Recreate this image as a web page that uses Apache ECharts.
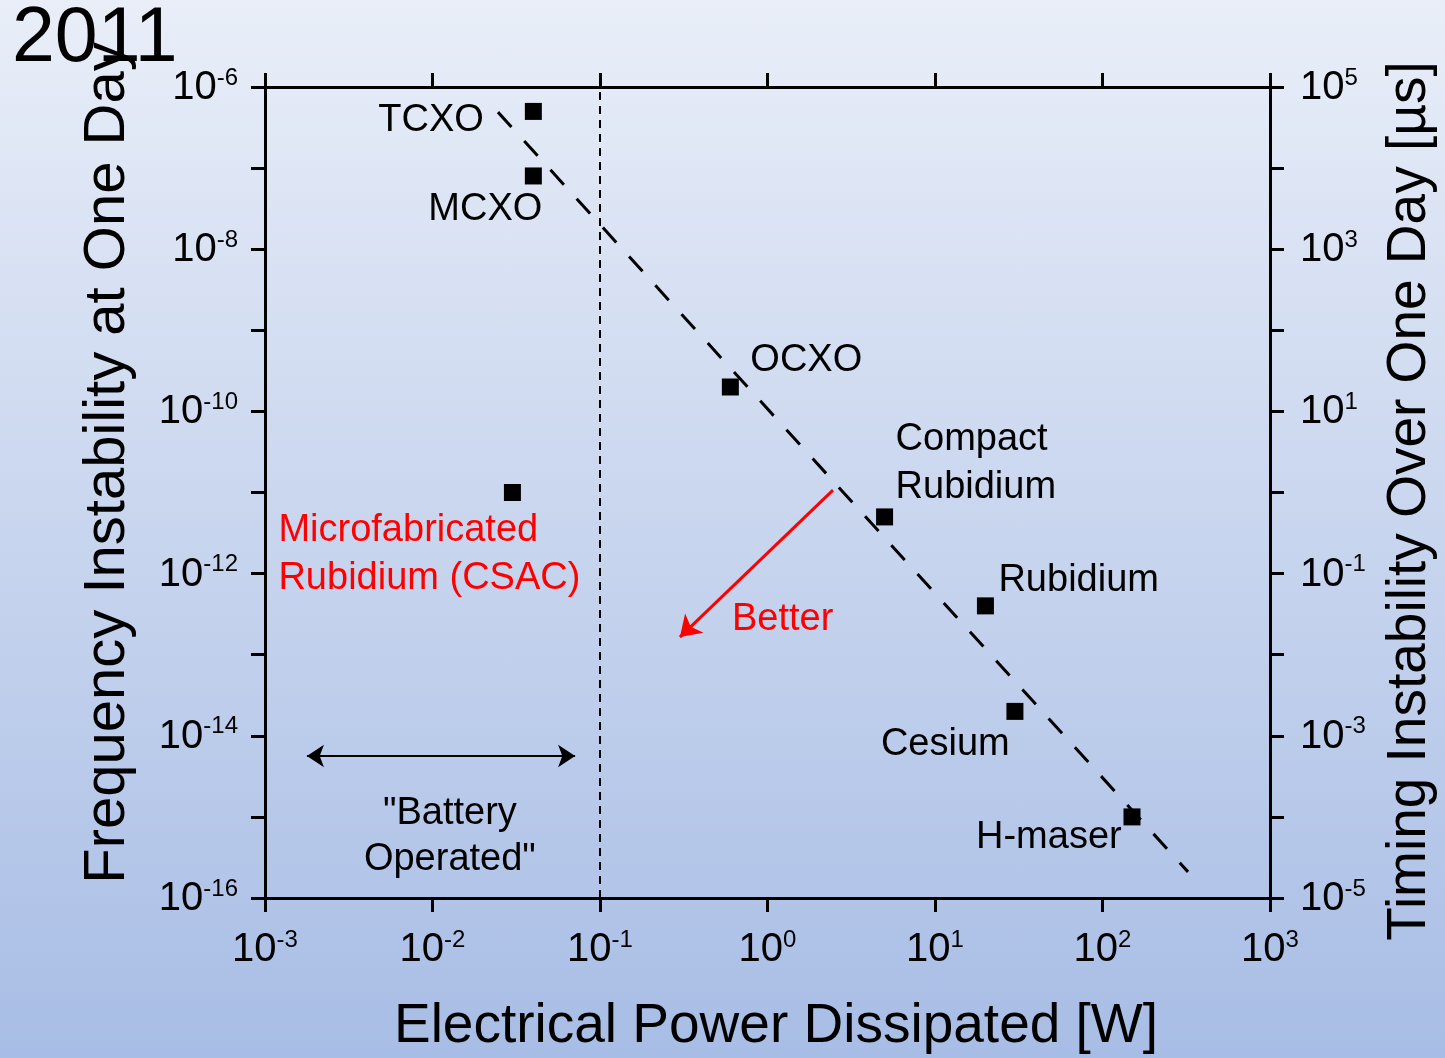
<!DOCTYPE html>
<html><head><meta charset="utf-8">
<script src="https://cdn.jsdelivr.net/npm/echarts@6/dist/echarts.min.js"></script>
<style>
html,body{margin:0;padding:0;}
#c{width:1445px;height:1058px;background:linear-gradient(to bottom,#e9eef8 0%,#a8bde5 100%);}
</style>
</head><body><div id="c"></div>
<script>
const FONT = '"Liberation Sans", Arial, sans-serif';

// ---- data ----
const deviceNames = ['TCXO', 'MCXO', 'OCXO', 'Compact\nRubidium', 'Rubidium', 'Cesium', 'H-maser', 'Microfabricated\nRubidium (CSAC)'];
const powerW = [0.04, 0.04, 0.6, 5, 20, 30, 150, 0.03];
const freqInstability = [5e-7, 8e-8, 2e-10, 5e-12, 4e-13, 2e-14, 1e-15, 1e-11];
const trendPower = [0.0246, 324];
const trendInstability = [4.9e-7, 2.1e-16];
const batteryLimitW = [0.1, 0.1];
const batteryLimitY = [1e-16, 1e-6];
const xExtent = [1e-3, 1e3];
const yExtent = [1e-16, 1e-6];
const timingExtent = [1e-5, 1e5];
const betterArrowX = [2.46, 0.30];
const betterArrowY = [1.07e-11, 1.65e-13];
const batteryArrowX = [0.00178, 0.071];
const batteryArrowY = [5.64e-15, 5.64e-15];
const notes = ['Better', '"Battery\nOperated"'];
const notesX = [0.614, 0.0127];
const notesY = [2.75e-13, 5.8e-16];

// ---- layout (label offsets, px relative to marker box) ----
const labelLayout = [[-146.5, 17.5], [-96.5, 42.5], [28.5, -17.5], [19.5, -44.5], [21.5, -16.5], [-125.5, 41.5], [-147.5, 29.5], [-225.5, 70.5]];
const labelColor = ['#000', '#000', '#000', '#000', '#000', '#000', '#000', '#ff0000'];

const expOf = v => Math.round(Math.log10(v));
const richLabel = {
  b: {fontSize: 40, fontFamily: FONT, color: '#000', lineHeight: 42, verticalAlign: 'bottom'},
  s: {fontSize: 24, fontFamily: FONT, color: '#000', verticalAlign: 'top', lineHeight: 14}
};
const fmt = (keep) => v => { const e = expOf(v); return keep(e) ? '{b|10}{s|' + e + '}' : ''; };

const axisLine = {show: true, onZero: false, lineStyle: {color: '#000', width: 3}};
const axisTick = {show: true, inside: false, length: 14, lineStyle: {color: '#000', width: 3}};

const chart = echarts.init(document.getElementById('c'), null, {renderer: 'canvas'});
chart.setOption({
  animation: false,
  backgroundColor: 'transparent',
  grid: {left: 265, right: 175, top: 87, bottom: 160, containLabel: false},
  xAxis: [
    {type: 'log', logBase: 10, min: xExtent[0], max: xExtent[1], interval: 1, position: 'bottom',
     axisLine, axisTick, splitLine: {show: false},
     axisLabel: {formatter: fmt(() => true), rich: richLabel, margin: 30}},
    {type: 'log', logBase: 10, min: xExtent[0], max: xExtent[1], interval: 1, position: 'top',
     axisLine, axisTick, splitLine: {show: false}, axisLabel: {show: false}}
  ],
  yAxis: [
    {type: 'log', logBase: 10, min: yExtent[0], max: yExtent[1], interval: 1, position: 'left',
     axisLine, axisTick, splitLine: {show: false},
     axisLabel: {formatter: fmt(e => e % 2 === 0), rich: richLabel, margin: 27}},
    {type: 'log', logBase: 10, min: timingExtent[0], max: timingExtent[1], interval: 1, position: 'right',
     axisLine, axisTick, splitLine: {show: false},
     axisLabel: {formatter: fmt(e => Math.abs(e % 2) === 1), rich: richLabel, margin: 30}}
  ],
  series: [
    {type: 'line', data: trendPower.map((x, i) => [x, trendInstability[i]]), symbol: 'none',
     lineStyle: {color: '#000', width: 3, type: [20, 19], opacity: 1}, z: 2},
    {type: 'line', data: batteryLimitW.map((x, i) => [x, batteryLimitY[i]]), symbol: 'none',
     lineStyle: {color: '#000', width: 2, type: [8, 6], opacity: 1}, z: 2},
    {type: 'lines', coordinateSystem: 'cartesian2d', polyline: false,
     data: [{coords: betterArrowX.map((x, i) => [x, betterArrowY[i]])}],
     symbol: ['none', 'arrow'], symbolSize: 20,
     lineStyle: {color: '#ff0000', width: 3, opacity: 1, curveness: 0}, z: 3},
    {type: 'lines', coordinateSystem: 'cartesian2d', polyline: false,
     data: [{coords: batteryArrowX.map((x, i) => [x, batteryArrowY[i]])}],
     symbol: ['arrow', 'arrow'], symbolSize: 17,
     lineStyle: {color: '#000', width: 2, opacity: 1, curveness: 0}, z: 3},
    {type: 'scatter', symbol: 'rect', symbolSize: 17, itemStyle: {color: '#000', opacity: 1}, z: 5,
     data: powerW.map((x, i) => ({
       value: [x, freqInstability[i]],
       label: {show: true, formatter: deviceNames[i], position: labelLayout[i], align: 'left', verticalAlign: 'middle',
               color: labelColor[i], opacity: 1, fontSize: 38, fontFamily: FONT, lineHeight: 48}
     }))},
    {type: 'scatter', symbolSize: 0, z: 5, itemStyle: {opacity: 1},
     data: notesX.map((x, i) => ({
       value: [x, notesY[i]],
       label: {show: true, formatter: notes[i], position: 'inside', align: i === 0 ? 'left' : 'center', verticalAlign: 'middle',
               color: i === 0 ? '#ff0000' : '#000', opacity: 1, fontSize: 38, fontFamily: FONT, lineHeight: 46}
     }))}
  ],
  graphic: [
    {type: 'text', x: 108, y: 463, rotation: Math.PI / 2, z: 10,
     style: {text: 'Frequency Instability at One Day', fontSize: 58, fontFamily: FONT, fill: '#000', align: 'center', verticalAlign: 'middle'}},
    {type: 'text', x: 1410, y: 501, rotation: Math.PI / 2, z: 10,
     style: {text: 'Timing Instability Over One Day [µs]', fontSize: 55, fontFamily: FONT, fill: '#000', align: 'center', verticalAlign: 'middle'}},
    {type: 'text', x: 776, y: 1027, z: 10,
     style: {text: 'Electrical Power Dissipated [W]', fontSize: 55, fontFamily: FONT, fill: '#000', align: 'center', verticalAlign: 'middle'}},
    {type: 'text', x: 12, y: 40, z: 11,
     style: {text: '2011', fontSize: 77, fontFamily: FONT, fill: '#000', align: 'left', verticalAlign: 'middle'}}
  ]
});
</script>
</body></html>
